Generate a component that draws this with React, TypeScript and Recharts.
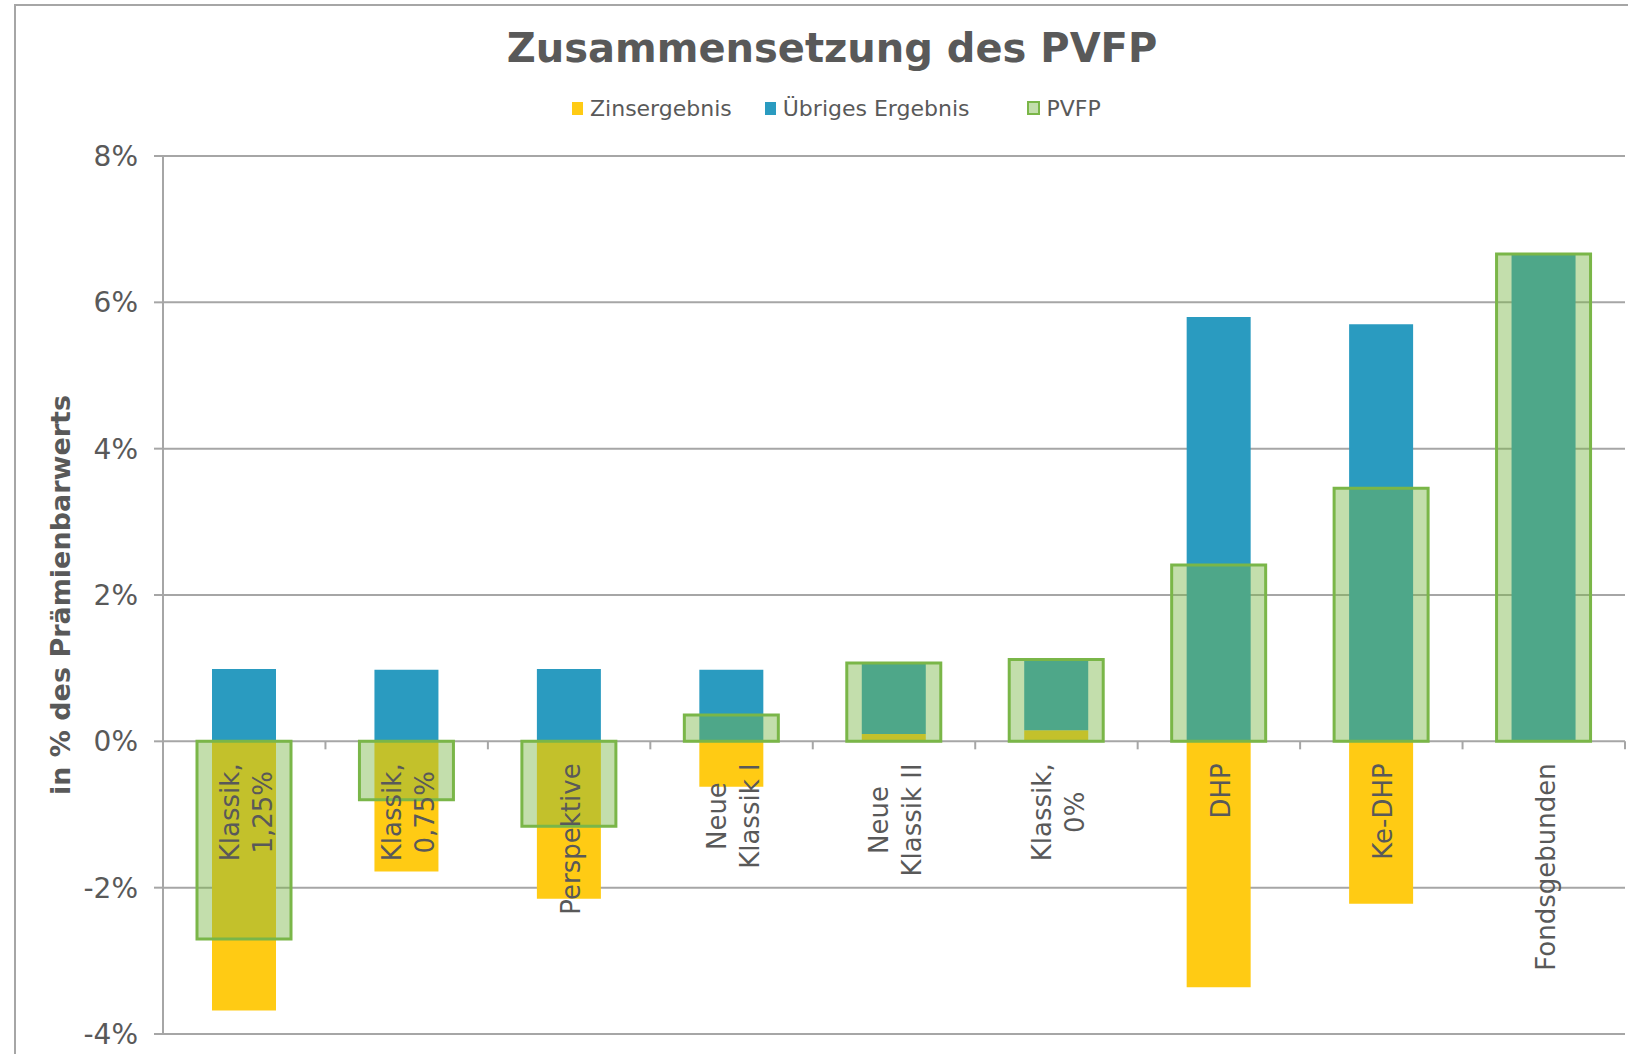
import React from "react";
import { BarChart, Bar, XAxis, YAxis, CartesianGrid, Label } from "recharts";

// Werte in % des Prämienbarwerts
const categories = [
  "Klassik,\n1,25%",
  "Klassik,\n0,75%",
  "Perspektive",
  "Neue\nKlassik I",
  "Neue\nKlassik II",
  "Klassik,\n0%",
  "DHP",
  "Ke-DHP",
  "Fondsgebunden",
];
const zinsergebnis = [-3.68, -1.78, -2.15, -0.62, 0.1, 0.15, -3.36, -2.22, 0];
const uebrigesErgebnis = [0.99, 0.98, 0.99, 0.98, 0.97, 0.97, 5.8, 5.7, 6.66];
const pvfpWerte = [-2.7, -0.8, -1.16, 0.36, 1.07, 1.12, 2.41, 3.46, 6.66];
const yTicks = [-4, -2, 0, 2, 4, 6, 8];

const data = categories.map((name, i) => ({
  name,
  zins: zinsergebnis[i],
  uebrig: uebrigesErgebnis[i],
  pvfp: pvfpWerte[i],
}));

const W = 1628;
const H = 1054;
const X_AXIS_H = 1;
const MARGIN = { top: 156, right: 3, bottom: 20 - X_AXIS_H, left: 0 };
const Y_AXIS_W = 163;
const PLOT_W = W - MARGIN.left - MARGIN.right - Y_AXIS_W;
const PLOT_H = H - MARGIN.top - MARGIN.bottom - X_AXIS_H;
const Y_MIN = yTicks[0];
const Y_MAX = yTicks[yTicks.length - 1];
const ZERO_Y = MARGIN.top + (PLOT_H * Y_MAX) / (Y_MAX - Y_MIN);

const FONT = "'DejaVu Sans', Verdana, sans-serif";
const TEXT = "#595959";
const GRID = "#a6a6a6";
const YELLOW = "#ffcb14";
const BLUE = "#2a9bc0";
const GREEN = "#7ab648";

let ctx: CanvasRenderingContext2D | null = null;
const textWidth = (t: string, font: string) => {
  if (!ctx) ctx = document.createElement("canvas").getContext("2d");
  if (!ctx) return t.length * 15;
  ctx.font = font;
  return ctx.measureText(t).width;
};

// Kategorie-Beschriftung, gedreht, direkt unter der Nulllinie
const CategoryTick = (props: any) => {
  const { x, payload, index } = props;
  const lines = String(payload.value).split("\n");
  const fontSize = 26;
  const maxW = Math.max(...lines.map((l) => textWidth(l, `${fontSize}px 'DejaVu Sans'`)));
  const cy = ZERO_Y + 22 + maxW / 2;
  const band = PLOT_W / categories.length;
  const lineH = 33;
  return (
    <g>
      <line x1={x - band / 2} x2={x - band / 2} y1={ZERO_Y} y2={ZERO_Y + 8} stroke={GRID} strokeWidth={2} />
      {index === categories.length - 1 && (
        <line x1={x + band / 2} x2={x + band / 2} y1={ZERO_Y} y2={ZERO_Y + 8} stroke={GRID} strokeWidth={2} />
      )}
      {lines.map((l, i) => {
        const lx = x + 2 + (i - (lines.length - 1) / 2) * lineH;
        return (
          <text
            key={i}
            x={lx}
            y={cy}
            transform={`rotate(-90 ${lx} ${cy})`}
            textAnchor="middle"
            dominantBaseline="central"
            fill={TEXT}
            fontSize={fontSize}
            fontFamily={FONT}
          >
            {l}
          </text>
        );
      })}
    </g>
  );
};

const renderYLabel = (props: any) => {
  const vb = props.viewBox || { x: 0, y: MARGIN.top, height: PLOT_H };
  const cx = vb.x + 60;
  const cy = vb.y + vb.height / 2;
  return (
    <text
      x={cx}
      y={cy}
      transform={`rotate(-90 ${cx} ${cy})`}
      textAnchor="middle"
      dominantBaseline="central"
      fill={TEXT}
      fontSize={27}
      fontWeight="bold"
      fontFamily={FONT}
    >
      in % des Prämienbarwerts
    </text>
  );
};

const legendItems = [
  { name: "Zinsergebnis", color: YELLOW, gap: 33 },
  { name: "Übriges Ergebnis", color: BLUE, gap: 57 },
  { name: "PVFP", color: GREEN, gap: 0 },
];

const App = () => {
  return (
    <div
      style={{
        position: "absolute",
        left: 0,
        top: 0,
        width: W,
        height: H,
        overflow: "hidden",
        background: "#fff",
        fontFamily: FONT,
      }}
    >
      <div
        style={{
          position: "absolute",
          left: 14,
          top: 4,
          width: W + 100,
          height: H + 100,
          border: "2px solid #a6a6a6",
        }}
      />
      <div
        style={{
          position: "absolute",
          left: 0,
          top: 24,
          width: 1664,
          textAlign: "center",
          fontSize: 40,
          lineHeight: "48px",
          fontWeight: "bold",
          color: TEXT,
        }}
      >
        Zusammensetzung des PVFP
      </div>
      <div
        style={{
          position: "absolute",
          left: 572,
          top: 94,
          height: 28,
          display: "flex",
          alignItems: "center",
          fontSize: 22,
          color: TEXT,
        }}
      >
        {legendItems.map((it, i) => (
          <div key={it.name} style={{ display: "flex", alignItems: "center", marginRight: it.gap }}>
            <span
              style={{
                display: "inline-block",
                width: i === 2 ? 9 : 11,
                height: i === 2 ? 10 : 13,
                marginRight: 7,
                background: i === 2 ? "rgba(122,182,72,0.45)" : it.color,
                border: i === 2 ? `2px solid ${GREEN}` : "none",
              }}
            />
            <span>{it.name}</span>
          </div>
        ))}
      </div>
      <div style={{ position: "absolute", left: 0, top: 0 }}>
        <BarChart width={W} height={H} data={data} margin={MARGIN} stackOffset="sign">
          <CartesianGrid horizontal vertical={false} stroke={GRID} strokeWidth={2} />
          <YAxis
            type="number"
            domain={[Y_MIN, Y_MAX]}
            ticks={yTicks}
            width={Y_AXIS_W}
            tickFormatter={(v: number) => `${v}%`}
            axisLine={{ stroke: GRID, strokeWidth: 2 }}
            tickLine={{ stroke: GRID, strokeWidth: 2 }}
            tickSize={9}
            tickMargin={16}
            tick={{ fill: TEXT, fontSize: 28, fontFamily: FONT }}
          >
            <Label content={renderYLabel} />
          </YAxis>
          <XAxis xAxisId="pvfp" dataKey="name" hide />
          <Bar
            dataKey="zins"
            name="Zinsergebnis"
            stackId="a"
            xAxisId="cat"
            fill={YELLOW}
            barSize={64}
            isAnimationActive={false}
          />
          <Bar
            dataKey="uebrig"
            name="Übriges Ergebnis"
            stackId="a"
            xAxisId="cat"
            fill={BLUE}
            barSize={64}
            isAnimationActive={false}
          />
          <Bar
            dataKey="pvfp"
            name="PVFP"
            xAxisId="pvfp"
            fill={GREEN}
            fillOpacity={0.45}
            stroke={GREEN}
            strokeWidth={3}
            barSize={94}
            isAnimationActive={false}
          />
          <XAxis
            xAxisId="cat"
            dataKey="name"
            height={X_AXIS_H}
            axisLine={false}
            tickLine={false}
            tickSize={0}
            tickMargin={0}
            interval={0}
            tick={<CategoryTick />}
          />
        </BarChart>
      </div>
    </div>
  );
};

export default App;
